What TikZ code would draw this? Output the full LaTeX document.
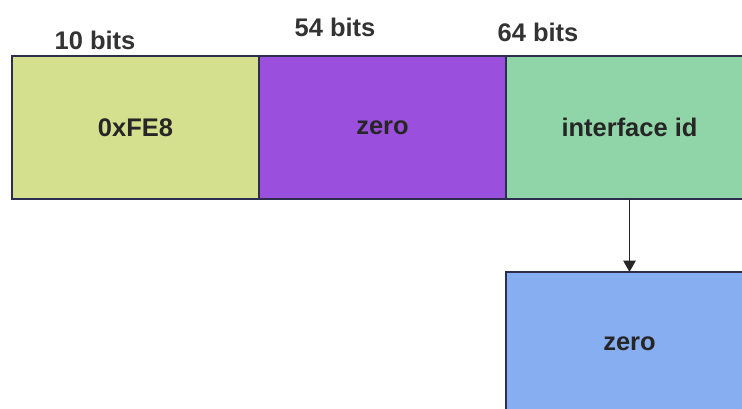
\documentclass[tikz,border=0pt]{standalone}
\usepackage{fontspec}
\setmainfont{Liberation Sans}
\usepackage{tikz}
\usetikzlibrary{arrows.meta, positioning}
\definecolor{llyellow}{RGB}{212,224,142}
\definecolor{zeropurple}{RGB}{155,79,221}
\definecolor{ifidgreen}{RGB}{144,213,168}
\definecolor{zeroblue}{RGB}{136,174,242}
\definecolor{edgenavy}{RGB}{45,45,80}
\tikzset{
  field/.style={rectangle, draw=edgenavy, line width=0.8pt, inner sep=0pt, outer sep=0pt,
    font=\fontsize{14.5}{17}\selectfont\bfseries, text=black!85,
    minimum width=4.94cm, minimum height=2.86cm},
  bits/.style={font=\fontsize{14.5}{17}\selectfont\bfseries, text=black!80, inner sep=0pt},
  pa/.style={-{Triangle[length=6.5pt, width=7pt]}, line width=1.1pt, color=black!85},
}
\begin{document}
\begin{tikzpicture}
\path[use as bounding box] (0,0) rectangle (14.84,8.18);
\clip (0,0) rectangle (14.84,8.18);
% address fields
\node[field, fill=llyellow, anchor=north west] (prefix) at (0.24,7.06) {0xFE8};
\node[field, fill=zeropurple, right=0pt of prefix] (zerofld) {zero};
\node[field, fill=ifidgreen, right=0pt of zerofld] (ifid) {interface id};
% widths
\node[bits] (bitsten) at (1.90,7.38) {10 bits};
\node[bits] (bitsfiftyfour) at (6.70,7.64) {54 bits};
\node[bits] (bitssixtyfour) at (10.76,7.54) {64 bits};
% expanded interface id
\node[field, fill=zeroblue, below=1.46cm of ifid] (ifzero) {zero};
\draw[pa] (ifid) -- (ifzero);
\end{tikzpicture}
\end{document}
